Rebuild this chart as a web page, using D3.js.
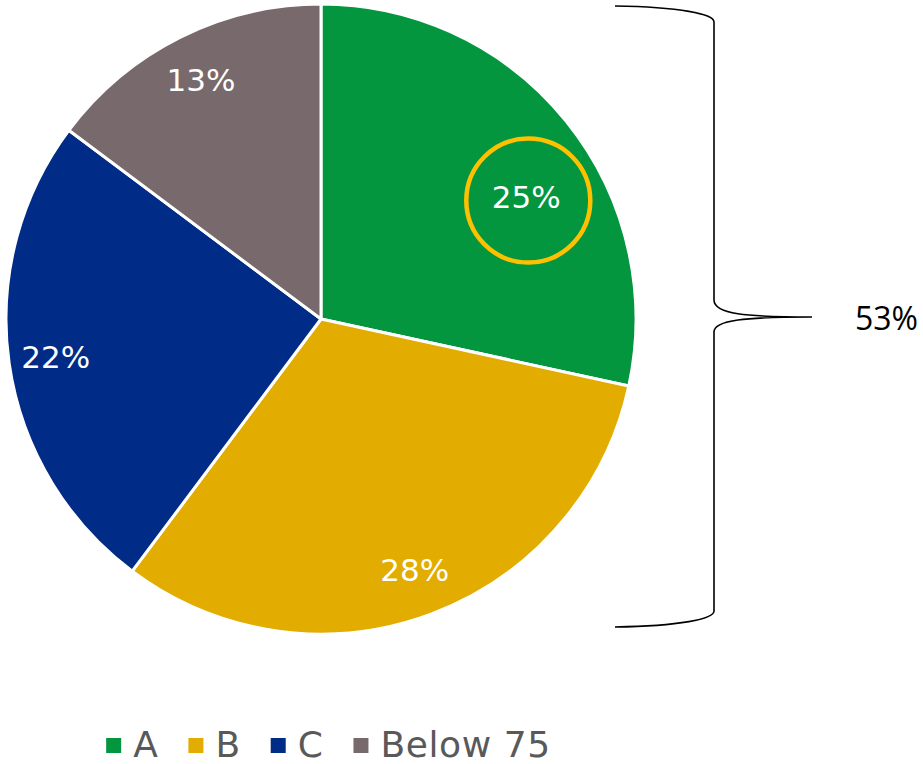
<!DOCTYPE html>
<html>
<head>
<meta charset="utf-8">
<script src="https://cdn.jsdelivr.net/npm/d3@7"></script>
<style>
  body { margin: 0; background: #fff; }
  svg { display: block; }
</style>
</head>
<body>
<svg width="923" height="764"></svg>
<script>
  // Data
  const categories = ['A', 'B', 'C', 'Below 75'];
  const values = [25, 28, 22, 13];
  const colors = ['#03963f', '#e2ac00', '#002b87', '#786a6c'];
  const bracketLabel = '53%';

  const svg = d3.select('svg');

  const cx = 321, cy = 319, radius = 315;

  const pie = d3.pie().sort(null).value(d => d.value);
  const arcs = pie(categories.map((c, i) => ({ name: c, value: values[i], color: colors[i] })));

  const arc = d3.arc().innerRadius(0).outerRadius(radius);

  const g = svg.append('g').attr('transform', `translate(${cx},${cy})`);

  g.selectAll('path.slice').data(arcs)
    .enter().append('path')
      .attr('class', 'slice')
      .attr('d', arc)
      .attr('fill', d => d.data.color)
      .attr('stroke', '#fff')
      .attr('stroke-width', 3)
      .attr('stroke-linejoin', 'round');

  // label placement: mid angle at fixed radius, first slice moved in
  const labelPos = (d, i) => {
    let a = (d.startAngle + d.endAngle) / 2;
    let r = 268;
    if (i === 0) { a = 59.2 * Math.PI / 180; r = 239; }
    return [r * Math.sin(a), -r * Math.cos(a)];
  };

  // highlight ring around A label
  const pA = labelPos(arcs[0], 0);
  g.append('circle')
    .attr('cx', pA[0] + 2)
    .attr('cy', pA[1] + 4)
    .attr('r', 62)
    .attr('fill', 'none')
    .attr('stroke', '#ffc000')
    .attr('stroke-width', 4.5);

  g.selectAll('text.lbl').data(arcs)
    .enter().append('text')
      .attr('class', 'lbl')
      .attr('transform', (d, i) => `translate(${labelPos(d, i)})`)
      .attr('text-anchor', 'middle')
      .attr('dy', '0.36em')
      .attr('fill', '#fff')
      .style('font-family', 'DejaVu Sans, Verdana, sans-serif')
      .style('font-size', '31px')
      .text(d => d.data.value + '%');

  // bracket on the right
  const bx0 = 615, bx1 = 714, tipX = 812;
  const yTop = 6, yBottom = 627, yMid = 318;
  const p = d3.path();
  p.moveTo(bx0, yTop);
  p.bezierCurveTo(680, yTop + 1, bx1, yTop + 8, bx1, yTop + 16);
  p.lineTo(bx1, yMid - 18);
  p.bezierCurveTo(bx1, yMid - 4, 745, yMid - 1, tipX, yMid - 1);
  p.moveTo(tipX, yMid - 1);
  p.bezierCurveTo(745, yMid - 1, bx1, yMid + 2, bx1, yMid + 14);
  p.lineTo(bx1, yBottom - 16);
  p.bezierCurveTo(bx1, yBottom - 8, 680, yBottom - 1, bx0, yBottom);
  svg.append('path')
    .attr('d', p.toString())
    .attr('fill', 'none')
    .attr('stroke', '#000')
    .attr('stroke-width', 1.6);

  svg.append('text')
    .attr('x', 855)
    .attr('y', 330)
    .attr('fill', '#000')
    .style('font-family', 'Open Sans, sans-serif')
    .style('font-size', '32px')
    .text(bracketLabel);

  // legend
  const legend = svg.append('g');
  const lg = legend.selectAll('g').data(arcs).enter().append('g');
  lg.append('rect')
    .attr('width', 15).attr('height', 15)
    .attr('y', -19)
    .attr('fill', d => d.data.color);
  lg.append('text')
    .attr('x', 27)
    .attr('fill', '#595959')
    .style('font-family', 'DejaVu Sans, Verdana, sans-serif')
    .style('font-size', '36px')
    .style('letter-spacing', '0.6px')
    .text(d => d.data.name);
  let xOff = 0;
  lg.each(function () {
    const w = 27 + d3.select(this).select('text').node().getComputedTextLength();
    d3.select(this).attr('transform', `translate(${xOff},0)`);
    xOff += w + 30;
  });
  const total = xOff - 30;
  legend.attr('transform', `translate(${328.5 - total / 2},757)`);
</script>
</body>
</html>
